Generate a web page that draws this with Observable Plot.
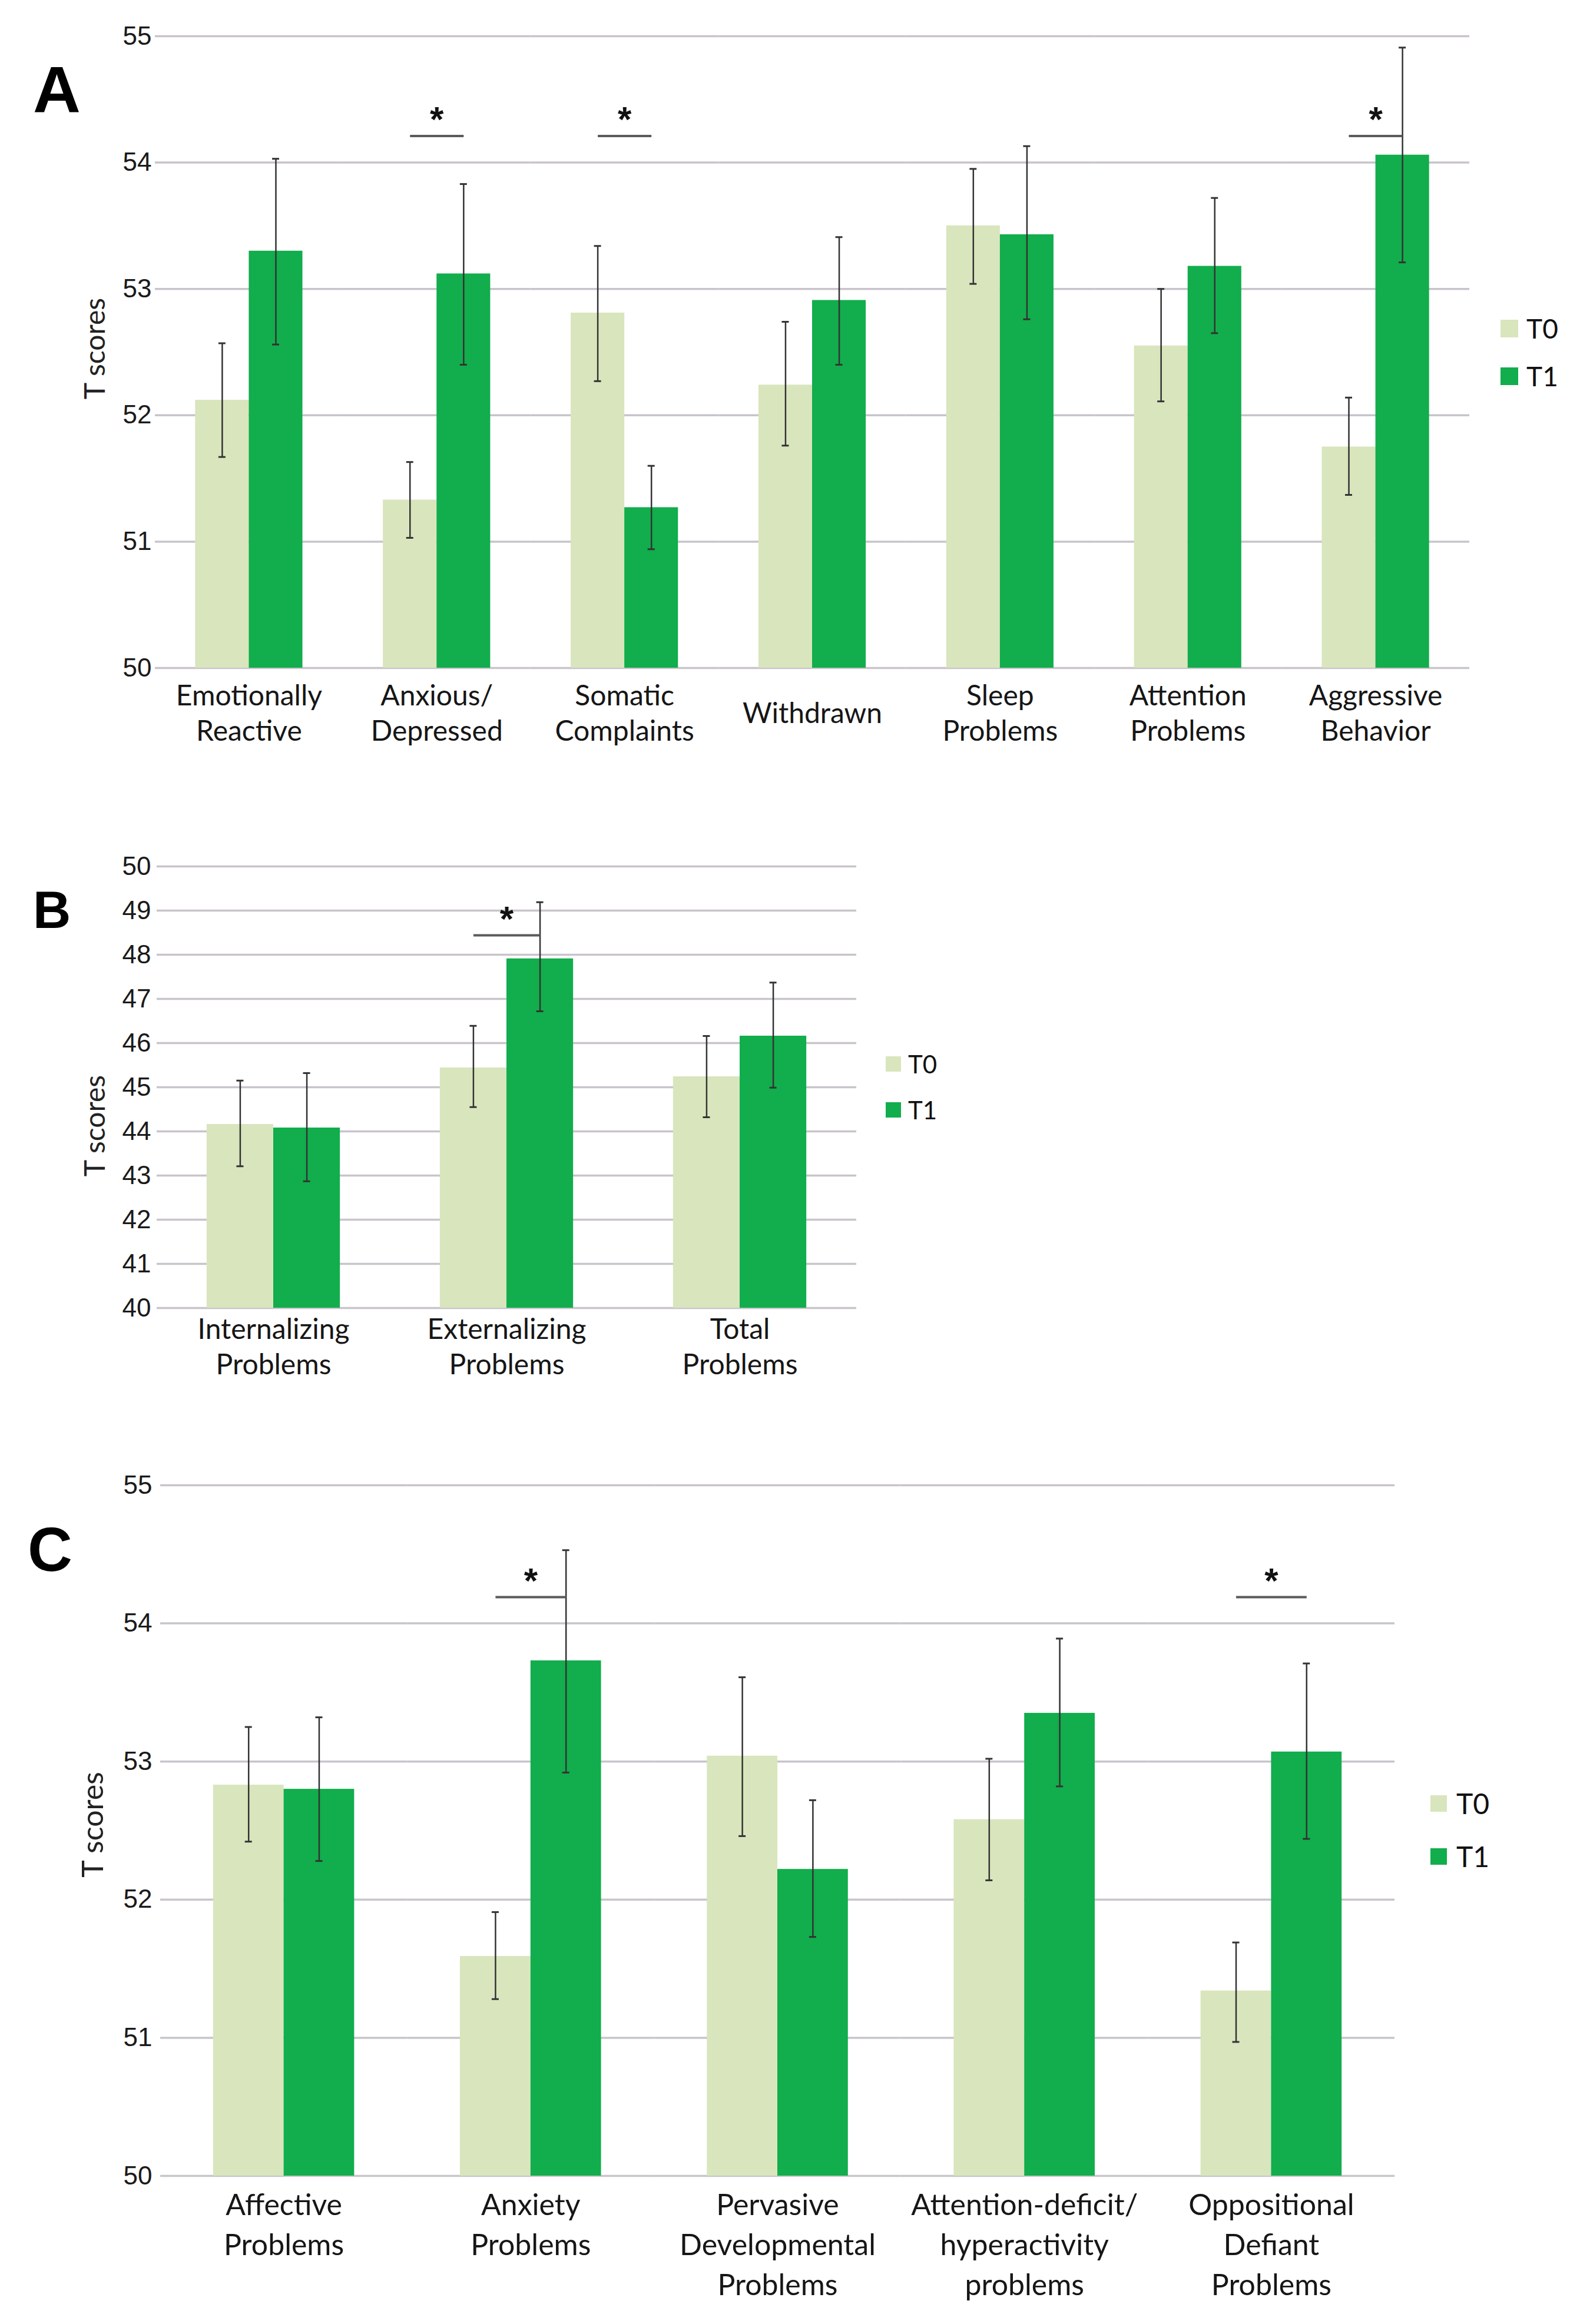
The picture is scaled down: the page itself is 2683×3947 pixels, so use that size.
<!DOCTYPE html>
<html>
<head>
<meta charset="utf-8">
<script src="https://cdn.jsdelivr.net/npm/d3@7"></script>
<script src="https://cdn.jsdelivr.net/npm/@observablehq/plot@0.6"></script>
<style>
  html, body { margin: 0; padding: 0; background: #fff; }
  #page { position: relative; width: 2683px; height: 3947px; background: #fff; overflow: hidden; }
  .panel { position: absolute; left: 0; }
  .letter { position: absolute; font-family: "Liberation Sans", Arial, sans-serif; font-weight: bold; line-height: 1; color: #000; }
  .ylab { position: absolute; font-family: Lato, sans-serif; color: #222; white-space: nowrap; transform: translate(-50%, -50%) rotate(-90deg); line-height: 1; }
  .legend { position: absolute; font-family: Lato, sans-serif; color: #111; line-height: 1; }
  .legend .sw { display: inline-block; }
</style>
</head>
<body>
<div id="page"></div>
<script>
// ---------- Data ----------
const seriesNames = ["T0", "T1"];
const seriesColors = ["#d9e5bd", "#12ad4c"];

// Panel A
const categoriesA = ["Emotionally\nReactive", "Anxious/\nDepressed", "Somatic\nComplaints", "Withdrawn", "Sleep\nProblems", "Attention\nProblems", "Aggressive\nBehavior"];
const t0MeanA = [52.12, 51.33, 52.81, 52.24, 53.50, 52.55, 51.75];
const t0LowA  = [51.67, 51.03, 52.27, 51.76, 53.04, 52.11, 51.37];
const t0HighA = [52.57, 51.63, 53.34, 52.74, 53.95, 53.00, 52.14];
const t1MeanA = [53.30, 53.12, 51.27, 52.91, 53.43, 53.18, 54.06];
const t1LowA  = [52.56, 52.40, 50.94, 52.40, 52.76, 52.65, 53.21];
const t1HighA = [54.03, 53.83, 51.60, 53.41, 54.13, 53.72, 54.91];
const significantA = ["Anxious/\nDepressed", "Somatic\nComplaints", "Aggressive\nBehavior"];
const sigLevelA = 54.21;
const ticksA = [50, 51, 52, 53, 54, 55];

// Panel B
const categoriesB = ["Internalizing\nProblems", "Externalizing\nProblems", "Total\nProblems"];
const t0MeanB = [44.16, 45.44, 45.24];
const t0LowB  = [43.21, 44.55, 44.32];
const t0HighB = [45.15, 46.39, 46.16];
const t1MeanB = [44.08, 47.91, 46.16];
const t1LowB  = [42.87, 46.72, 44.99];
const t1HighB = [45.32, 49.19, 47.37];
const significantB = ["Externalizing\nProblems"];
const sigLevelB = 48.44;
const ticksB = [40, 41, 42, 43, 44, 45, 46, 47, 48, 49, 50];

// Panel C
const categoriesC = ["Affective\nProblems", "Anxiety\nProblems", "Pervasive\nDevelopmental\nProblems", "Attention-deficit/\nhyperactivity\nproblems", "Oppositional\nDefiant\nProblems"];
const t0MeanC = [52.83, 51.59, 53.04, 52.58, 51.34];
const t0LowC  = [52.42, 51.28, 52.46, 52.14, 50.97];
const t0HighC = [53.25, 51.91, 53.61, 53.02, 51.69];
const t1MeanC = [52.80, 53.73, 52.22, 53.35, 53.07];
const t1LowC  = [52.28, 52.92, 51.73, 52.82, 52.44];
const t1HighC = [53.32, 54.53, 52.72, 53.89, 53.71];
const significantC = ["Anxiety\nProblems", "Oppositional\nDefiant\nProblems"];
const sigLevelC = 54.19;
const ticksC = [50, 51, 52, 53, 54, 55];

// ---------- Builder ----------
function buildRows(cats, m0, l0, h0, m1, l1, h1) {
  return cats.flatMap((c, i) => [
    {cat: c, series: seriesNames[0], mean: m0[i], lo: l0[i], hi: h0[i]},
    {cat: c, series: seriesNames[1], mean: m1[i], lo: l1[i], hi: h1[i]}
  ]);
}

function panel(cfg) {
  const rows = buildRows(cfg.cats, cfg.m0, cfg.l0, cfg.h0, cfg.m1, cfg.l1, cfg.h1);
  const sigRows = cfg.sig.map(c => ({cat: c, level: cfg.sigLevel}));
  const plotW = cfg.width - cfg.ml - cfg.mr;
  const facetW = plotW / cfg.cats.length;
  const outer = 0.75;
  const bw = facetW / (2 + 2 * outer);
  const capInset = (bw - 12) / 2;
  const yMin = cfg.ticks[0];
  return Plot.plot({
    width: cfg.width,
    height: cfg.height,
    marginLeft: cfg.ml,
    marginRight: cfg.mr,
    marginTop: cfg.mt,
    marginBottom: cfg.mb,
    style: {background: "transparent", overflow: "visible"},
    fx: {domain: cfg.cats, padding: 0, round: false, axis: null, label: null},
    x: {type: "band", domain: seriesNames, paddingInner: 0, paddingOuter: outer, round: false, axis: null, label: null},
    y: {domain: [cfg.ticks[0], cfg.ticks[cfg.ticks.length - 1]], axis: null, label: null},
    color: {domain: seriesNames, range: seriesColors},
    marks: [
      Plot.ruleY(cfg.ticks, {stroke: "#c9c4cb", strokeWidth: 3.5}),
      Plot.axisY(cfg.ticks, {tickSize: 0, tickPadding: cfg.tickPadding, tickFormat: d => String(d), fontSize: 44, fontFamily: "Liberation Sans, Arial, sans-serif", fill: "#1a1a1a", label: null}),
      Plot.barY(rows, {fx: "cat", x: "series", y1: yMin, y2: "mean", fill: "series"}),
      Plot.ruleX(rows, {fx: "cat", x: "series", y1: "lo", y2: "hi", stroke: "#333", strokeWidth: 2.5}),
      Plot.tickY(rows, {fx: "cat", x: "series", y: "hi", stroke: "#333", strokeWidth: 3, insetLeft: capInset, insetRight: capInset}),
      Plot.tickY(rows, {fx: "cat", x: "series", y: "lo", stroke: "#333", strokeWidth: 3, insetLeft: capInset, insetRight: capInset}),
      Plot.link(sigRows, {fx: "cat", x1: () => seriesNames[0], x2: () => seriesNames[1], y1: "level", y2: "level", stroke: "#5a5a5a", strokeWidth: 4}),
      Plot.text(sigRows, {fx: "cat", y: "level", text: () => "*", dy: -27, fontSize: 60, fontWeight: "bold", fontFamily: "Liberation Sans, Arial, sans-serif", fill: "#111"}),
      Plot.text(cfg.cats, {fx: d => d, text: d => d, frameAnchor: "bottom", dy: cfg.labelDy, lineAnchor: cfg.labelAnchor, lineHeight: cfg.lineHeight, fontSize: cfg.labelSize, fontFamily: "Lato, sans-serif", fill: "#161616"})
    ]
  });
}

const page = document.getElementById("page");

function place(node, top) {
  const d = document.createElement("div");
  d.className = "panel";
  d.style.top = top + "px";
  d.appendChild(node);
  page.appendChild(d);
}

function addLetter(txt, left, top, size) {
  const d = document.createElement("div");
  d.className = "letter";
  d.textContent = txt;
  d.style.left = left + "px";
  d.style.top = top + "px";
  d.style.fontSize = size + "px";
  page.appendChild(d);
}

function addYLabel(cx, cy, size) {
  const d = document.createElement("div");
  d.className = "ylab";
  d.textContent = "T scores";
  d.style.left = cx + "px";
  d.style.top = cy + "px";
  d.style.fontSize = size + "px";
  page.appendChild(d);
}

function addLegend(left, y0, y1, sw, gap, size) {
  [y0, y1].forEach((y, i) => {
    const item = document.createElement("div");
    item.className = "legend";
    item.style.left = left + "px";
    item.style.top = (y - sw / 2) + "px";
    item.style.height = sw + "px";
    item.style.display = "flex";
    item.style.alignItems = "center";
    item.style.fontSize = size + "px";
    const s = document.createElement("span");
    s.className = "sw";
    s.style.width = sw + "px";
    s.style.height = sw + "px";
    s.style.background = seriesColors[i];
    s.style.marginRight = gap + "px";
    const t = document.createElement("span");
    t.textContent = seriesNames[i];
    item.appendChild(s);
    item.appendChild(t);
    page.appendChild(item);
  });
}

// Panel A
place(panel({
  cats: categoriesA, m0: t0MeanA, l0: t0LowA, h0: t0HighA, m1: t1MeanA, l1: t1LowA, h1: t1HighA,
  sig: significantA, sigLevel: sigLevelA, ticks: ticksA,
  width: 2683, height: 1320, ml: 263, mr: 188, mt: 61, mb: 186,
  tickPadding: 6, labelDy: 74, labelAnchor: "middle", lineHeight: 1.25, labelSize: 48
}), 0);

// Panel B
place(panel({
  cats: categoriesB, m0: t0MeanB, l0: t0LowB, h0: t0HighB, m1: t1MeanB, l1: t1LowB, h1: t1HighB,
  sig: significantB, sigLevel: sigLevelB, ticks: ticksB,
  width: 1500, height: 1000, ml: 266, mr: 46, mt: 71, mb: 179,
  tickPadding: 10, labelDy: 63, labelAnchor: "middle", lineHeight: 1.27, labelSize: 48
}), 1400);

// Panel C
place(panel({
  cats: categoriesC, m0: t0MeanC, l0: t0LowC, h0: t0HighC, m1: t1MeanC, l1: t1LowC, h1: t1HighC,
  sig: significantC, sigLevel: sigLevelC, ticks: ticksC,
  width: 2683, height: 1497, ml: 272, mr: 315, mt: 72, mb: 252,
  tickPadding: 14, labelDy: 18, labelAnchor: "top", lineHeight: 1.36, labelSize: 50
}), 2450);

// Panel letters
addLetter("A", 56, 97, 112);
addLetter("B", 56, 1501, 89);
addLetter("C", 47, 2579, 105);

// Axis titles
addYLabel(160, 592, 48);
addYLabel(160, 1912, 48);
addYLabel(156, 3099, 50);

// Legends
addLegend(2548, 558, 639, 30, 14, 46);
addLegend(1504, 1807, 1885, 26, 12, 42);
addLegend(2429, 3063, 3153, 28, 16, 48);
</script>
</body>
</html>
